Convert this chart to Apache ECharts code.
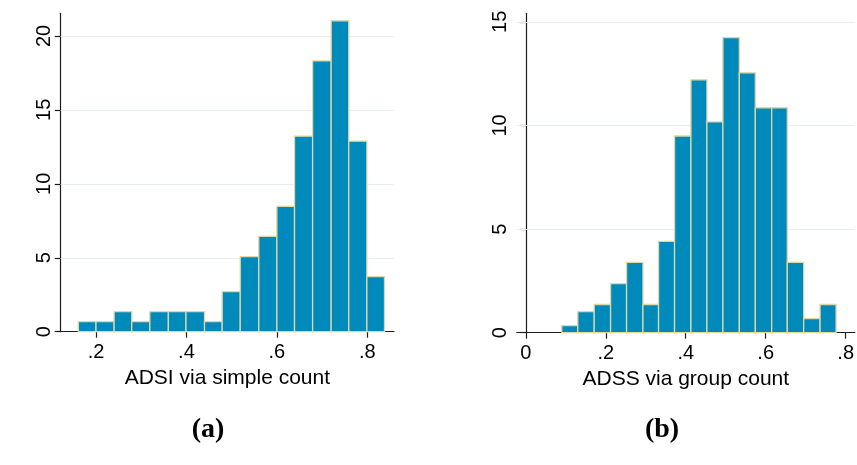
<!DOCTYPE html>
<html>
<head>
<meta charset="utf-8">
<script src="https://cdn.jsdelivr.net/npm/echarts@6/dist/echarts.min.js"></script>
<style>
  html, body { margin: 0; padding: 0; background: #ffffff; }
  #chart { width: 857px; height: 465px; }
</style>
</head>
<body>
<div id="chart"></div>
<script>
// Histogram (a): ADSI via simple count — bin edges and percent per bin
const adsiEdges = [0.161, 0.200, 0.240, 0.279, 0.319, 0.360, 0.399, 0.440, 0.479,
                   0.519, 0.560, 0.600, 0.639, 0.679, 0.720, 0.759, 0.799, 0.838];
const adsiPercent = [0.68, 0.68, 1.36, 0.68, 1.36, 1.36, 1.36, 0.68, 2.71,
                     5.08, 6.44, 8.47, 13.22, 18.31, 21.02, 12.88, 3.73];

// Histogram (b): ADSS via group count — bin edges and percent per bin
const adssEdges = [0.090, 0.130, 0.171, 0.212, 0.252, 0.293, 0.332, 0.372, 0.413,
                   0.453, 0.493, 0.534, 0.574, 0.615, 0.654, 0.695, 0.736, 0.776];
const adssPercent = [0.34, 1.02, 1.36, 2.37, 3.39, 1.36, 4.41, 9.49, 12.20,
                     10.17, 14.24, 12.54, 10.85, 10.85, 3.39, 0.68, 1.36];

// Tick positions
const adsiXTicks = [0.2, 0.4, 0.6, 0.8];
const adsiYTicks = [0, 5, 10, 15, 20];
const adssXTicks = [0, 0.2, 0.4, 0.6, 0.8];
const adssYTicks = [0, 5, 10, 15];

const FONT = '"Liberation Sans", Arial, sans-serif';
const BAR_FILL = '#0089bb';
const BAR_EDGE = '#e2d6a2';
const AXIS_COLOR = '#1c1c1c';
const GRID_COLOR = '#e8eff1';

function toBins(edges, values) {
  return values.map((v, i) => [edges[i], edges[i + 1], v]);
}

function renderBin(params, api) {
  const topLeft = api.coord([api.value(0), api.value(2)]);
  const bottomRight = api.coord([api.value(1), 0]);
  return {
    type: 'rect',
    shape: {
      x: topLeft[0],
      y: topLeft[1],
      width: bottomRight[0] - topLeft[0],
      height: bottomRight[1] - topLeft[1]
    },
    style: { fill: BAR_FILL, stroke: BAR_EDGE, lineWidth: 1.3 }
  };
}

function fmtX(v) {
  if (Math.abs(v) < 1e-9) return '0';
  return String(Math.round(v * 10) / 10).replace(/^0/, '');
}

function xAxisOf(gridIndex, min, max, ticks, name) {
  return {
    gridIndex, type: 'value', min, max,
    axisLine: { onZero: false, lineStyle: { color: AXIS_COLOR, width: 1.2 } },
    axisTick: { customValues: ticks, length: 6, lineStyle: { color: AXIS_COLOR, width: 1.2 } },
    axisLabel: { customValues: ticks, formatter: fmtX, fontFamily: FONT, fontSize: 20,
                 color: '#000', margin: 11 },
    splitLine: { show: false },
    name, nameLocation: 'middle', nameGap: 36,
    nameTextStyle: { fontFamily: FONT, fontSize: 21, color: '#000' }
  };
}

function yAxisOf(gridIndex, max, ticks) {
  return {
    gridIndex, type: 'value', min: 0, max,
    axisLine: { show: true, lineStyle: { color: AXIS_COLOR, width: 1.2 } },
    axisTick: { show: true, customValues: ticks, length: 6, lineStyle: { color: AXIS_COLOR, width: 1.2 } },
    axisLabel: { customValues: ticks, rotate: 90, fontFamily: FONT, fontSize: 20,
                 color: '#000', margin: 6 },
    splitLine: { show: false }
  };
}

function histSeries(idx, edges, values, yTicks) {
  return {
    type: 'custom',
    xAxisIndex: idx, yAxisIndex: idx,
    renderItem: renderBin,
    encode: { x: [0, 1], y: 2 },
    data: toBins(edges, values),
    z: 3,
    silent: true,
    animation: false,
    markLine: {
      silent: true, z: 1, animation: false,
      symbol: ['none', 'none'],
      label: { show: false },
      lineStyle: { color: GRID_COLOR, width: 1, type: 'solid' },
      data: yTicks.filter(v => v > 0).map(v => ({ yAxis: v }))
    }
  };
}

const chart = echarts.init(document.getElementById('chart'), null, { renderer: 'canvas' });
chart.setOption({
  backgroundColor: '#ffffff',
  animation: false,
  grid: [
    { left: 60.7, top: 13.3, width: 333.3, height: 318.4 },
    { left: 516.7, top: 13.3, width: 338.3, height: 319.4 }
  ],
  xAxis: [
    xAxisOf(0, 0.1219, 0.859, adsiXTicks, 'ADSI via simple count'),
    xAxisOf(1, -0.0228, 0.823, adssXTicks, 'ADSS via group count')
  ],
  yAxis: [
    yAxisOf(0, 21.53, adsiYTicks),
    yAxisOf(1, 15.41, adssYTicks)
  ],
  title: [
    { text: '(a)', left: 203, top: 425, textAlign: 'center', textVerticalAlign: 'middle',
      textStyle: { fontFamily: '"Liberation Serif", "Times New Roman", serif', fontWeight: 'bold', fontSize: 28, color: '#000' } },
    { text: '(b)', left: 657, top: 425, textAlign: 'center', textVerticalAlign: 'middle',
      textStyle: { fontFamily: '"Liberation Serif", "Times New Roman", serif', fontWeight: 'bold', fontSize: 28, color: '#000' } }
  ],
  series: [
    histSeries(0, adsiEdges, adsiPercent, adsiYTicks),
    histSeries(1, adssEdges, adssPercent, adssYTicks)
  ]
});
</script>
</body>
</html>
